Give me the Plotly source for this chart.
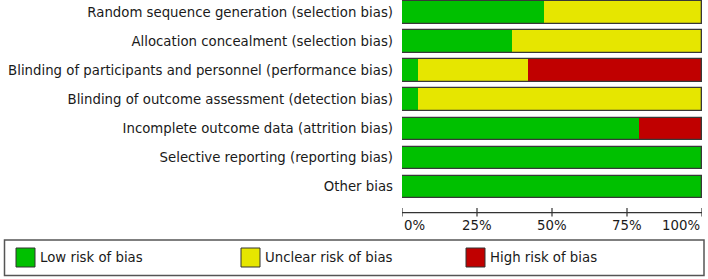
import plotly.graph_objects as go

categories = [
    "Random sequence generation (selection bias)",
    "Allocation concealment (selection bias)",
    "Blinding of participants and personnel (performance bias)",
    "Blinding of outcome assessment (detection bias)",
    "Incomplete outcome data (attrition bias)",
    "Selective reporting (reporting bias)",
    "Other bias",
]
low_risk = [47.4, 36.8, 5.3, 5.3, 78.9, 100.0, 100.0]
unclear_risk = [52.6, 63.2, 36.8, 94.7, 0.0, 0.0, 0.0]
high_risk = [0.0, 0.0, 57.9, 0.0, 21.1, 0.0, 0.0]
tick_values = [0, 25, 50, 75, 100]
tick_labels = ["0%", "25%", "50%", "75%", "100%"]
legend_labels = ["Low risk of bias", "Unclear risk of bias", "High risk of bias"]
colors = ["#00c000", "#e6e600", "#c00000"]

W, H = 708, 279
ML, MR, MT, MB = 402, 6, 0, 66
plot_h = H - MT - MB
row0 = 12.5
pitch = 29.05
FS = 13.3

def px(x):
    return (x - ML) / (W - ML - MR)

def py(y):
    return (plot_h - y) / plot_h

fig = go.Figure()
series = [low_risk, unclear_risk, high_risk]
bases = [0.0] * len(categories)
for vals, col, name in zip(series, colors, legend_labels):
    fig.add_trace(go.Bar(
        y=list(range(len(categories))), x=vals, base=bases[:], orientation="h",
        marker=dict(color=col, line=dict(width=0)), width=0.77, name=name,
        showlegend=False, hoverinfo="skip",
    ))
    bases = [b + v for b, v in zip(bases, vals)]

# outline of each full bar
fig.add_trace(go.Bar(
    y=list(range(len(categories))), x=bases, base=0, orientation="h",
    marker=dict(color="rgba(0,0,0,0)", line=dict(width=1.3, color="#383838")),
    width=0.77, showlegend=False, hoverinfo="skip",
))

shapes = []
annotations = []
# axis line and ticks
shapes.append(dict(type="line", xref="x", yref="paper", x0=0, x1=100,
                   y0=py(212.7), y1=py(212.7), line=dict(color="#333", width=1.2)))
for tv, tl in zip(tick_values, tick_labels):
    shapes.append(dict(type="line", xref="x", yref="paper", x0=tv, x1=tv,
                       y0=py(208), y1=py(216.5), line=dict(color="#333", width=1.2)))
    anchor = "left" if tv == tick_values[0] else ("right" if tv == tick_values[-1] else "center")
    annotations.append(dict(x=tv, y=py(225.5), xref="x", yref="paper", text=tl,
                            showarrow=False, xanchor=anchor, yanchor="middle",
                            font=dict(size=FS, color="#1a1a1a")))

# legend box
shapes.append(dict(type="rect", xref="paper", yref="paper", x0=px(4.5), x1=px(704),
                   y0=py(240), y1=py(275.5), line=dict(color="#555", width=1.5),
                   fillcolor="rgba(0,0,0,0)"))
leg_x = [16, 241, 466]
for lx, col, name in zip(leg_x, colors, legend_labels):
    shapes.append(dict(type="rect", xref="paper", yref="paper", x0=px(lx), x1=px(lx + 19),
                       y0=py(248), y1=py(267), line=dict(color="#333", width=1),
                       fillcolor=col))
    annotations.append(dict(x=px(lx + 22), y=py(257.5), xref="paper", yref="paper", text=name,
                            showarrow=False, xanchor="left", yanchor="middle",
                            font=dict(size=FS, color="#1a1a1a")))

fig.update_layout(
    width=W, height=H, margin=dict(l=ML, r=MR, t=MT, b=MB),
    paper_bgcolor="white", plot_bgcolor="white",
    barmode="overlay", bargap=0,
    font=dict(family="DejaVu Sans", size=FS, color="#1a1a1a"),
    xaxis=dict(range=[0, 100], showgrid=False, zeroline=False, showticklabels=False,
               showline=False, ticks="", fixedrange=True),
    yaxis=dict(range=[(plot_h - row0) / pitch, -row0 / pitch], tickmode="array",
               tickvals=list(range(len(categories))), ticktext=categories,
               showgrid=False, zeroline=False, showline=False, ticks="",
               ticklabelstandoff=8, tickfont=dict(size=FS, color="#1a1a1a")),
    shapes=shapes, annotations=annotations, showlegend=False,
)

fig.write_html("out.html")
